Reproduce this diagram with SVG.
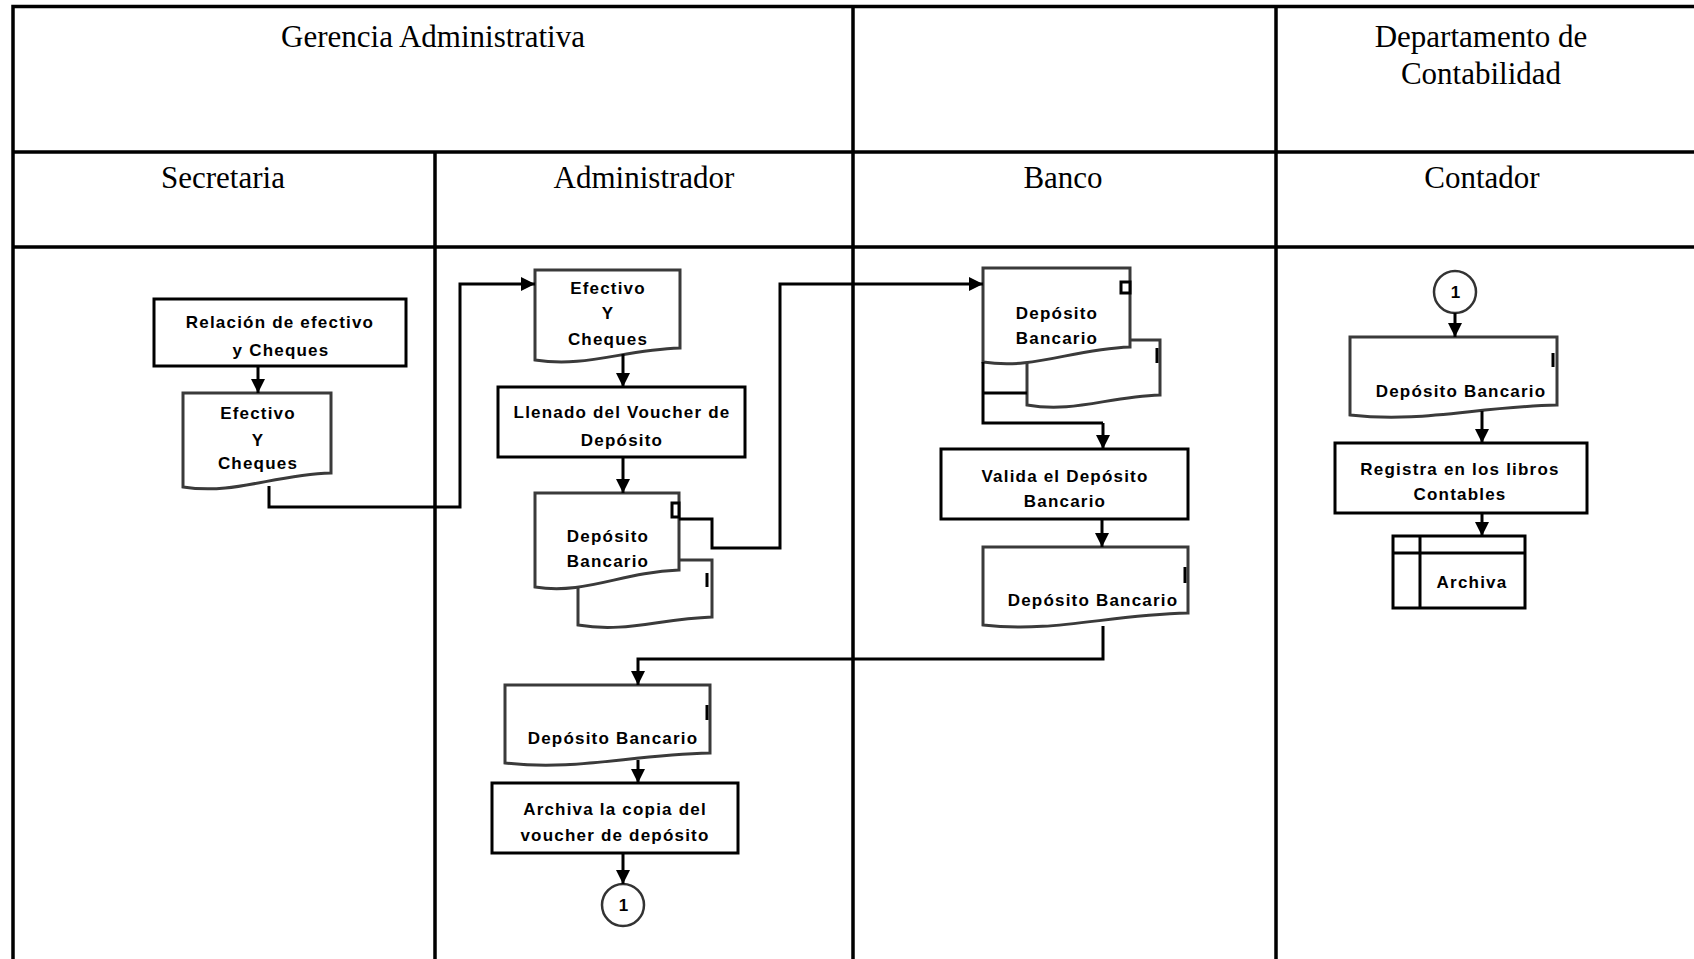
<svg xmlns="http://www.w3.org/2000/svg" width="1694" height="959" viewBox="0 0 1694 959">
<style>
.lane{stroke:#000;stroke-width:3.5;fill:none}
.h{font-family:"Liberation Serif","Times New Roman",serif;font-size:31px;text-anchor:middle;fill:#000}
.t{font-family:"Liberation Sans",Arial,sans-serif;font-weight:bold;font-size:17px;letter-spacing:1.2px;text-anchor:middle;fill:#000}
.box{fill:#fff;stroke:#000;stroke-width:3}
.doc{fill:#fff;stroke:#3a3a3a;stroke-width:3;stroke-linejoin:miter}
.ln{fill:none;stroke:#000;stroke-width:3}
.tick{stroke:#000;stroke-width:3}
.con{fill:none;stroke:#000;stroke-width:3}
.arr{fill:none;stroke:#000;stroke-width:3;marker-end:url(#ah)}
.circ{fill:#fff;stroke:#333;stroke-width:2.5}
</style>
<defs>
<marker id="ah" markerUnits="userSpaceOnUse" markerWidth="14" markerHeight="14" refX="14" refY="7" orient="auto">
<path d="M0,0 L14,7 L0,14 Z" fill="#000"/>
</marker>
</defs>
<rect width="1694" height="959" fill="#fff"/>
<g id="lanes">
<path class="lane" d="M13,959 V6.5 H1694 M13,152 H1694 M13,247 H1694 M435,152 V959 M853,6.5 V959 M1276,6.5 V959"/>
<text class="h" x="433" y="47">Gerencia Administrativa</text>
<text class="h" x="1481" y="47">Departamento de</text>
<text class="h" x="1481" y="84">Contabilidad</text>
<text class="h" x="223" y="188">Secretaria</text>
<text class="h" x="644" y="188">Administrador</text>
<text class="h" x="1063" y="188">Banco</text>
<text class="h" x="1482" y="188">Contador</text>
</g>
<g id="p1">
<rect class="box" x="154" y="299" width="252" height="67"/>
<text class="t" x="280" y="328">Relación de efectivo</text>
<text class="t" x="281" y="356">y Cheques</text>
</g>
<g id="d1">
<path class="doc" d="M183,393 H331 V473 C271.8,475 234.8,495 183,487 Z"/>
<text class="t" x="258" y="419">Efectivo</text>
<text class="t" x="258" y="446">Y</text>
<text class="t" x="258" y="469">Cheques</text>
</g>
<g id="d2">
<path class="doc" d="M535,270 H680 V348 C622,350 585.75,368 535,360 Z"/>
<text class="t" x="608" y="294">Efectivo</text>
<text class="t" x="608" y="319">Y</text>
<text class="t" x="608" y="345">Cheques</text>
</g>
<g id="p2">
<rect class="box" x="498" y="387" width="247" height="70"/>
<text class="t" x="622" y="418">Llenado del Voucher de</text>
<text class="t" x="622" y="446">Depósito</text>
</g>
<g id="d3">
<path class="doc" d="M578,560 H712 V617 C658.4,619 624.9,633 578,625 Z"/>
<line class="tick" x1="707" y1="573" x2="707" y2="587"/>
<path class="doc" d="M535,493 H679 V570 C621.4,572 585.4,595 535,587 Z"/>
<rect x="672" y="503" width="7" height="14" fill="#fff" stroke="#000" stroke-width="3"/>
<text class="t" x="608" y="542">Depósito</text>
<text class="t" x="608" y="567">Bancario</text>
</g>
<g id="d4">
<path class="doc" d="M505,685 H710 V753 C628,755 576.75,771 505,763 Z"/>
<line class="tick" x1="707" y1="705" x2="707" y2="720"/>
<text class="t" x="613" y="744">Depósito Bancario</text>
</g>
<g id="p3">
<rect class="box" x="492" y="783" width="246" height="70"/>
<text class="t" x="615" y="815">Archiva la copia del</text>
<text class="t" x="615" y="841">voucher de depósito</text>
</g>
<g id="c1">
<circle class="circ" cx="623" cy="905" r="21"/>
<text class="t" x="624" y="911">1</text>
</g>
<g id="d5">
<path class="doc" d="M1027,340 H1160 V395 C1106.8,397 1073.55,413 1027,405 Z"/>
<line class="tick" x1="1157" y1="348" x2="1157" y2="363"/>
<path class="doc" d="M983,268 H1130 V347 C1071.2,349 1034.45,370 983,362 Z"/>
<rect x="1121" y="282" width="9" height="11" fill="#fff" stroke="#000" stroke-width="3"/>
<text class="t" x="1057" y="319">Depósito</text>
<text class="t" x="1057" y="344">Bancario</text>
</g>
<g id="p4">
<rect class="box" x="941" y="449" width="247" height="70"/>
<text class="t" x="1065" y="482">Valida el Depósito</text>
<text class="t" x="1065" y="507">Bancario</text>
</g>
<g id="d6">
<path class="doc" d="M983,547 H1188 V613 C1106,615 1054.75,633 983,625 Z"/>
<line class="tick" x1="1185" y1="567" x2="1185" y2="583"/>
<text class="t" x="1093" y="606">Depósito Bancario</text>
</g>
<g id="c2">
<circle class="circ" cx="1455" cy="292" r="21"/>
<text class="t" x="1456" y="298">1</text>
</g>
<g id="d7">
<path class="doc" d="M1350,337 H1557 V405 C1474.2,407 1422.45,423 1350,415 Z"/>
<line class="tick" x1="1553" y1="353" x2="1553" y2="367"/>
<text class="t" x="1461" y="397">Depósito Bancario</text>
</g>
<g id="p5">
<rect class="box" x="1335" y="443" width="252" height="70"/>
<text class="t" x="1460" y="475">Registra en los libros</text>
<text class="t" x="1460" y="500">Contables</text>
</g>
<g id="s1">
<rect class="box" x="1393" y="536" width="132" height="72"/>
<path class="ln" d="M1393,553 H1525 M1420,536 V608"/>
<text class="t" x="1472" y="588">Archiva</text>
</g>
<g id="connectors">
<path class="arr" d="M258,366 V393"/>
<path class="arr" d="M269,486 V507 H460 V284 H535"/>
<path class="arr" d="M623,354 V387"/>
<path class="arr" d="M623,457 V493"/>
<path class="arr" d="M679,519 H712 V548 H780 V284 H983"/>
<path class="con" d="M983,362 V423 H1103 M983,393 H1027"/>
<path class="arr" d="M1103,423 V449"/>
<path class="arr" d="M1102,519 V547"/>
<path class="arr" d="M1103,626 V659 H638 V685"/>
<path class="arr" d="M638,760 V783"/>
<path class="arr" d="M623,853 V884"/>
<path class="arr" d="M1455,313 V337"/>
<path class="arr" d="M1482,411 V443"/>
<path class="arr" d="M1482,513 V536"/>
</g>
</svg>
